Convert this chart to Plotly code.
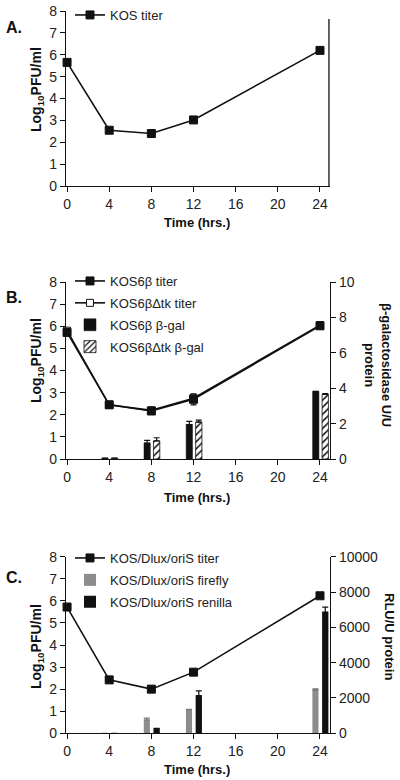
import plotly.graph_objects as go

# ---------------- data ----------------
hours = [0, 4, 8, 12, 24]
bar_hours = [4, 8, 12, 24]
x_ticks = [0, 4, 8, 12, 16, 20, 24]

# Panel A
a_kos_titer = [5.65, 2.55, 2.40, 3.02, 6.20]

# Panel B
b_kos6b_titer = [5.72, 2.45, 2.17, 2.70, 6.02]
b_kos6b_titer_err = [0.15, 0.05, 0.05, 0.25, 0.08]
b_dtk_titer = [5.80, 2.45, 2.20, 2.75, 6.05]
b_kos6b_bgal = [0.05, 0.90, 1.95, 3.82]
b_kos6b_bgal_err = [0.0, 0.15, 0.18, 0.0]
b_dtk_bgal = [0.05, 1.02, 2.08, 3.65]
b_dtk_bgal_err = [0.0, 0.18, 0.12, 0.05]
b_right_ticks = [0, 2, 4, 6, 8, 10]

# Panel C
c_titer = [5.72, 2.42, 2.00, 2.77, 6.23]
c_firefly = [0, 760, 1360, 2450]
c_firefly_err = [0, 100, 0, 60]
c_renilla = [0, 280, 2130, 6870]
c_renilla_err = [0, 0, 270, 270]
c_right_ticks = [0, 2000, 4000, 6000, 8000, 10000]

# ---------------- style ----------------
W, H = 400, 780
FONT = "Liberation Sans, Arial, Helvetica, sans-serif"
INK = "#111111"
TXT = "#222222"
GRAY = "#8c8c8c"

def py(px):  # pixel row -> paper y
    return (H - px) / H

def pxx(px):
    return px / W

XDOM = [66 / W, 330 / W]
XRANGE = [-0.1, 24.95]
DOM_A = [py(186), py(11)]
DOM_B = [py(459), py(282)]
DOM_C = [py(733.3), py(556.7)]

fig = go.Figure()

line_style = dict(color=INK, width=1.6)
mk = dict(symbol="square", size=8, color=INK, line=dict(color=INK, width=1))

# Panel A
fig.add_trace(go.Scatter(x=hours, y=a_kos_titer, mode="lines+markers", name="KOS titer",
                         line=line_style, marker=mk, xaxis="x", yaxis="y",
                         legend="legend", legendgroup="a1", showlegend=True,
                         cliponaxis=False))

# Panel B
fig.add_trace(go.Bar(x=bar_hours, y=b_kos6b_bgal, name="KOS6β β-gal",
                     marker=dict(color=INK, line=dict(color=INK, width=0.5)),
                     offset=-0.7, width=0.6,
                     error_y=dict(type="data", array=b_kos6b_bgal_err, arrayminus=[0] * 4,
                                  symmetric=False, color=INK, thickness=1.2, width=3),
                     xaxis="x2", yaxis="y3", legend="legend2", legendgroup="b3",
                     legendrank=3))
fig.add_trace(go.Bar(x=bar_hours, y=b_dtk_bgal, name="KOS6βΔtk β-gal",
                     marker=dict(color="white", line=dict(color=INK, width=0.8),
                                 pattern=dict(shape="/", fgcolor=INK, bgcolor="white",
                                              size=5, solidity=0.3)),
                     offset=0.2, width=0.6,
                     error_y=dict(type="data", array=b_dtk_bgal_err, arrayminus=[0] * 4,
                                  symmetric=False, color=INK, thickness=1.2, width=3),
                     xaxis="x2", yaxis="y3", legend="legend2", legendgroup="b4",
                     legendrank=4))
fig.add_trace(go.Scatter(x=hours, y=b_dtk_titer, mode="lines+markers", name="KOS6βΔtk titer",
                         line=line_style,
                         marker=dict(symbol="square", size=7, color="white",
                                     line=dict(color=INK, width=1)),
                         xaxis="x2", yaxis="y2", legend="legend2", legendgroup="b2",
                         legendrank=2, cliponaxis=False))
fig.add_trace(go.Scatter(x=hours, y=b_kos6b_titer, mode="lines+markers", name="KOS6β titer",
                         line=line_style, marker=mk,
                         error_y=dict(type="data", array=b_kos6b_titer_err, color=INK,
                                      thickness=1.2, width=3),
                         xaxis="x2", yaxis="y2", legend="legend2", legendgroup="b1",
                         legendrank=1, cliponaxis=False))

# Panel C
fig.add_trace(go.Bar(x=bar_hours, y=c_firefly, name="KOS/Dlux/oriS firefly",
                     marker=dict(color=GRAY, line=dict(width=0)),
                     offset=-0.72, width=0.58,
                     error_y=dict(type="data", array=c_firefly_err, arrayminus=[0] * 4,
                                  symmetric=False, color="#777777", thickness=1.2, width=3),
                     xaxis="x3", yaxis="y5", legend="legend3", legendgroup="c2",
                     legendrank=2))
fig.add_trace(go.Bar(x=bar_hours, y=c_renilla, name="KOS/Dlux/oriS renilla",
                     marker=dict(color=INK, line=dict(width=0)),
                     offset=0.2, width=0.6,
                     error_y=dict(type="data", array=c_renilla_err, arrayminus=[0] * 4,
                                  symmetric=False, color=INK, thickness=1.2, width=3),
                     xaxis="x3", yaxis="y5", legend="legend3", legendgroup="c3",
                     legendrank=3))
fig.add_trace(go.Scatter(x=hours, y=c_titer, mode="lines+markers", name="KOS/Dlux/oriS titer",
                         line=line_style, marker=mk,
                         xaxis="x3", yaxis="y4", legend="legend3", legendgroup="c1",
                         legendrank=1, cliponaxis=False))

axis_common = dict(showline=True, linecolor=INK, linewidth=1.3, ticks="outside",
                   ticklen=5, tickwidth=1.2, tickcolor=INK, showgrid=False, zeroline=False,
                   automargin=False,
                   tickfont=dict(family=FONT, size=14, color=TXT))

def xax(anchor):
    return dict(axis_common, domain=XDOM, range=XRANGE, anchor=anchor,
                tickmode="array", tickvals=x_ticks, ticktext=[str(v) for v in x_ticks])

def yleft(domain, anchor):
    return dict(axis_common, domain=domain, range=[0, 8], dtick=1, anchor=anchor)

fig.update_layout(
    template="none",
    width=W, height=H, autosize=False,
    margin=dict(l=0, r=0, t=0, b=0, pad=0),
    paper_bgcolor="white", plot_bgcolor="white",
    barmode="overlay", showlegend=True,
    font=dict(family=FONT, color=TXT),
    xaxis=xax("y"), xaxis2=xax("y2"), xaxis3=xax("y4"),
    yaxis=yleft(DOM_A, "x"),
    yaxis2=yleft(DOM_B, "x2"),
    yaxis3=dict(axis_common, overlaying="y2", side="right", anchor="x2", range=[0, 10],
                tickmode="array", tickvals=b_right_ticks,
                ticktext=[str(v) for v in b_right_ticks]),
    yaxis4=yleft(DOM_C, "x3"),
    yaxis5=dict(axis_common, overlaying="y4", side="right", anchor="x3", range=[0, 10000],
                tickmode="array", tickvals=c_right_ticks,
                ticktext=[str(v) for v in c_right_ticks]),
)

leg_common = dict(bgcolor="rgba(0,0,0,0)", borderwidth=0, xanchor="left", yanchor="top",
                  font=dict(family=FONT, size=13, color=TXT),
                  traceorder="grouped", tracegroupgap=2)
fig.update_layout(
    legend=dict(leg_common, x=pxx(70), y=1.0),
    legend2=dict(leg_common, x=pxx(70), y=py(266)),
    legend3=dict(leg_common, x=pxx(70), y=py(543)),
)

anns = []
def ann(text, xpx, ypx, size=13, angle=0):
    anns.append(dict(text=text, x=pxx(xpx), y=py(ypx), xref="paper", yref="paper",
                     showarrow=False, textangle=angle, xanchor="center", yanchor="middle",
                     font=dict(family=FONT, size=size, color=INK)))

# panel labels
ann("<b>A.</b>", 14, 28, size=16)
ann("<b>B.</b>", 14, 297, size=16)
ann("<b>C.</b>", 14, 577, size=16)
# left y titles
ylab = "<b>Log<sub>10</sub>PFU/ml</b>"
ann(ylab, 37, 90, size=14, angle=-90)
ann(ylab, 37, 361, size=14, angle=-90)
ann(ylab, 37, 647, size=14, angle=-90)
# x titles
ann("<b>Time (hrs.)</b>", 197, 222)
ann("<b>Time (hrs.)</b>", 197, 498)
ann("<b>Time (hrs.)</b>", 197, 769)
# right titles
ann("<b>β-galactosidase U/U<br>protein</b>", 378, 365, angle=90)
ann("<b>RLU/U protein</b>", 390, 636, angle=90)
fig.update_layout(annotations=anns)

# right frame line of panel A
fig.add_shape(type="line", xref="x domain", yref="y domain", x0=0.996, x1=0.996,
              y0=0, y1=0.954, line=dict(color=INK, width=1.3))

fig.write_html("out.html",
               config={"displayModeBar": False},
               post_script="document.body.style.margin='0';"
                           "document.body.style.overflow='hidden';")
